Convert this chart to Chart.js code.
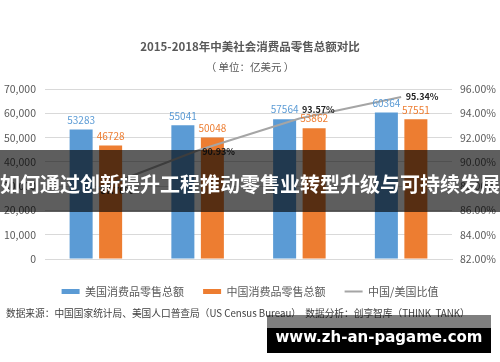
<!DOCTYPE html>
<html>
<head>
<meta charset="utf-8">
<script src="https://cdn.jsdelivr.net/npm/chart.js@4.4.1/dist/chart.umd.min.js"></script>
<style>
body { margin: 0; background: #fff; }
#wrap { position: relative; width: 500px; height: 362px; overflow: hidden; font-family: 'Noto Sans CJK SC', sans-serif; }
#chart { position: absolute; left: 0; top: 0; }
#source { position: absolute; left: 6px; top: 306px; font-size: 9.7px; line-height: 14px; color: #404040; white-space: nowrap; }
#banner { position: absolute; left: 0; top: 150px; width: 500px; height: 62px; background: rgba(0,0,0,0.63); }
#banner span { display: block; width: 500px; text-align: center; white-space: nowrap; color: #fff; font-weight: bold; font-size: 20px; line-height: 62px; position: relative; top: 3px; }
#wm { position: absolute; left: 267px; top: 315px; width: 224px; height: 38px;
      background: linear-gradient(to bottom, rgba(0,0,0,0.5) 0, rgba(0,0,0,0.5) 13px, #000 13px, #000 38px); }
#wm span { display: block; text-align: center; color: #fff; font: bold 15px 'DejaVu Sans', sans-serif; line-height: 32px; padding-top: 6px; }
</style>
</head>
<body>
<div id="wrap">
  <canvas id="chart" width="500" height="362"></canvas>
  <div id="source">数据来源：中国国家统计局、美国人口普查局（US Census Bureau）&nbsp;&nbsp;数据分析：创享智库（THINK&nbsp;&nbsp;TANK）</div>
  <div id="banner"><span>如何通过创新提升工程推动零售业转型升级与可持续发展</span></div>
  <div id="wm"><span>www.zh-an-pagame.com</span></div>
</div>
<script>
// 数据
const years = ['2015', '2016', '2017', '2018'];
const usRetail = [53283, 55041, 57564, 60364];
const cnRetail = [46728, 50048, 53862, 57551];
const cnUsRatio = [87.70, 90.93, 93.57, 95.34];
const seriesNames = ['美国消费品零售总额', '中国消费品零售总额', '中国/美国比值'];
const amountTicks = [0, 70000, 10000];   // min, max, step
const ratioTicks = [82, 96, 2];

// 比值标签相对于点的偏移
const ratioLabelOffsets = [[21, 1], [21, 1], [19, -9], [21, 0]];

Chart.defaults.font.family = "'Noto Sans CJK SC', 'Noto Sans', sans-serif";
Chart.defaults.color = '#595959';

const valueLabels = {
    id: 'valueLabels',
    afterDatasetsDraw(chart) {
        const ctx = chart.ctx;
        ctx.save();
        ctx.textAlign = 'center';
        ctx.textBaseline = 'middle';
        chart.data.datasets.forEach((ds, i) => {
            const meta = chart.getDatasetMeta(i);
            meta.data.forEach((el, j) => {
                if (ds.type === 'line') {
                    const off = ratioLabelOffsets[j];
                    ctx.font = "bold 9px 'Noto Sans CJK SC'";
                    ctx.fillStyle = '#262626';
                    ctx.fillText(ds.data[j].toFixed(2) + '%', el.x + off[0], el.y + off[1]);
                } else {
                    ctx.font = "10px 'Noto Sans CJK SC'";
                    ctx.fillStyle = ds.backgroundColor;
                    ctx.fillText(ds.data[j], el.x, el.y - 9.5);
                }
            });
        });
        ctx.restore();
    }
};

new Chart(document.getElementById('chart').getContext('2d'), {
    data: {
        labels: years,
        datasets: [
            {
                type: 'bar',
                label: seriesNames[0],
                data: usRetail,
                backgroundColor: '#5B9BD5',
                borderWidth: 0,
                yAxisID: 'y',
                categoryPercentage: 0.58,
                barPercentage: 0.78
            },
            {
                type: 'bar',
                label: seriesNames[1],
                data: cnRetail,
                backgroundColor: '#ED7D31',
                borderWidth: 0,
                yAxisID: 'y',
                categoryPercentage: 0.58,
                barPercentage: 0.78
            },
            {
                type: 'line',
                label: seriesNames[2],
                data: cnUsRatio,
                borderColor: '#A5A5A5',
                backgroundColor: '#A5A5A5',
                borderWidth: 2,
                pointRadius: 0,
                tension: 0,
                yAxisID: 'y1',
                order: -1
            }
        ]
    },
    options: {
        responsive: false,
        animation: false,
        devicePixelRatio: 1,
        layout: { padding: { left: 0, right: 0, top: 0, bottom: 55 } },
        plugins: {
            title: {
                display: true,
                text: '2015-2018年中美社会消费品零售总额对比',
                color: '#595959',
                font: { size: 11.5, weight: 'bold' },
                padding: { top: 40, bottom: 0 }
            },
            subtitle: {
                display: true,
                text: '（ 单位：亿美元 ）',
                color: '#595959',
                font: { size: 10.5 },
                padding: { top: 7, bottom: 15.6 }
            },
            legend: {
                position: 'bottom',
                labels: {
                    font: { size: 11 },
                    color: '#595959',
                    usePointStyle: true,
                    pointStyleWidth: 18,
                    boxHeight: 5,
                    padding: 19,
                    generateLabels: chart => Chart.defaults.plugins.legend.labels.generateLabels(chart)
                        .sort((a, b) => a.datasetIndex - b.datasetIndex)
                        .map(item => {
                            item.pointStyle = item.datasetIndex === 2 ? 'line' : 'rect';
                            return item;
                        })
                }
            },
            tooltip: { enabled: false }
        },
        scales: {
            x: {
                grid: { display: false },
                border: { color: '#D9D9D9' },
                ticks: { font: { size: 8.5 }, color: '#595959', padding: 6 },
                afterFit: axis => { axis.height = 8; }
            },
            y: {
                position: 'left',
                min: amountTicks[0],
                max: amountTicks[1],
                ticks: { stepSize: amountTicks[2], font: { size: 10.5 }, color: '#595959', padding: 9 },
                grid: { color: '#D9D9D9', drawTicks: false },
                border: { display: false },
                afterFit: axis => { axis.width = 45; }
            },
            y1: {
                position: 'right',
                min: ratioTicks[0],
                max: ratioTicks[1],
                ticks: {
                    stepSize: ratioTicks[2],
                    font: { size: 10.5 },
                    color: '#595959',
                    padding: 8,
                    callback: v => v.toFixed(2) + '%'
                },
                grid: { drawOnChartArea: false, drawTicks: false },
                border: { display: false },
                afterFit: axis => { axis.width = 48; }
            }
        }
    },
    plugins: [valueLabels]
});
</script>
</body>
</html>
